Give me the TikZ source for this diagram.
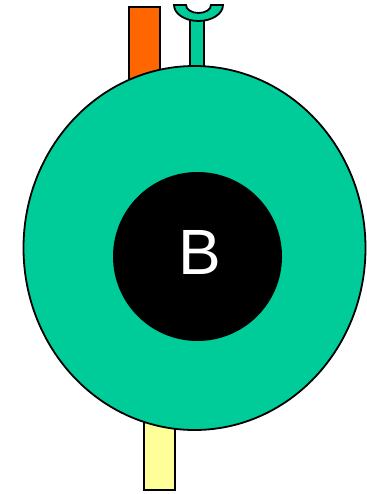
\documentclass[tikz,border=0pt]{standalone}
\usepackage{fontspec}
\setmainfont{Liberation Sans}
\definecolor{teal1}{HTML}{00CC99}
\definecolor{orange1}{HTML}{FF6600}
\definecolor{yellow1}{HTML}{FFFF99}
\begin{document}
\begin{tikzpicture}[x=1pt,y=-1pt,
  part/.style={draw=black,line width=2pt},
  thinpart/.style={draw=black,line width=1.8pt}]
\useasboundingbox (0,0) rectangle (366,494);
% orange rod
\draw[part,fill=orange1] (129,7) rectangle (160,120);
% teal stem and cup
\draw[part,fill=teal1] (190,20) rectangle (204,120);
\draw[thinpart,fill=teal1] (174,5) -- (186,5)
  arc[start angle=180,end angle=0,x radius=12.5,y radius=8] -- (223,5)
  arc[start angle=0,end angle=180,x radius=24.5,y radius=16] -- cycle;
% yellow rod
\draw[part,fill=yellow1] (144,380) rectangle (175,490);
% body
\draw[thinpart,fill=teal1] (194.5,248) ellipse[x radius=171,y radius=182];
\fill[black] (197.5,256.5) circle[radius=84.5];
\node[text=white,font=\fontsize{64}{64}\selectfont,inner sep=0pt] (B) at (200,252) {B};
\end{tikzpicture}
\end{document}
